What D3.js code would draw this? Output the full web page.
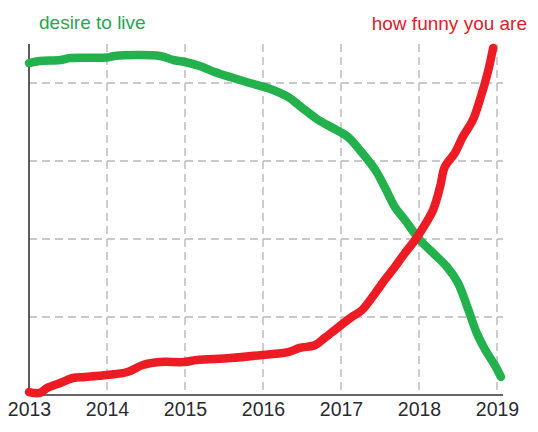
<!DOCTYPE html>
<html>
<head>
<meta charset="utf-8">
<script src="https://cdn.jsdelivr.net/npm/d3@7"></script>
<style>
  html, body { margin: 0; padding: 0; background: #fff; }
  svg { display: block; }
</style>
</head>
<body>
<div id="chart"></div>
<script>
// ---- data ----
const yearTicks = [2013, 2014, 2015, 2016, 2017, 2018, 2019];
const gridValues = [1, 2, 3, 4];
const seriesNames = ["desire to live", "how funny you are"];

const desireX = [2013.0, 2013.14, 2013.40, 2013.53, 2014.0, 2014.10, 2014.68, 2014.85, 2015.0, 2015.19, 2015.38, 2015.62, 2015.83, 2016.06, 2016.32, 2016.49, 2016.71, 2016.92, 2017.09, 2017.24, 2017.44, 2017.56, 2017.69, 2017.82, 2018.0, 2018.18, 2018.36, 2018.50, 2018.62, 2018.74, 2018.85, 2018.97, 2019.05];
const desireY = [4.256, 4.282, 4.295, 4.321, 4.327, 4.346, 4.346, 4.295, 4.269, 4.218, 4.141, 4.064, 4.0, 3.936, 3.821, 3.692, 3.526, 3.410, 3.308, 3.141, 2.885, 2.667, 2.410, 2.244, 2.0, 1.821, 1.641, 1.436, 1.128, 0.795, 0.577, 0.385, 0.231];

const funnyX = [2013.0, 2013.14, 2013.23, 2013.40, 2013.56, 2013.72, 2014.0, 2014.26, 2014.46, 2014.68, 2014.99, 2015.15, 2015.58, 2015.99, 2016.32, 2016.47, 2016.67, 2016.79, 2016.92, 2017.12, 2017.27, 2017.44, 2017.56, 2017.69, 2017.82, 2017.95, 2018.05, 2018.18, 2018.27, 2018.33, 2018.46, 2018.56, 2018.69, 2018.78, 2018.88, 2018.95];
const funnyY = [0.038, 0.026, 0.090, 0.154, 0.218, 0.231, 0.256, 0.295, 0.385, 0.423, 0.423, 0.449, 0.474, 0.513, 0.551, 0.603, 0.641, 0.731, 0.833, 0.987, 1.090, 1.308, 1.474, 1.641, 1.821, 1.987, 2.141, 2.372, 2.667, 2.923, 3.103, 3.308, 3.526, 3.782, 4.128, 4.449];

const colors = ["#22b14c", "#ed1c24"];
const labelColors = ["#2aa452", "#e0202c"];

// ---- chart ----
const W = 538, H = 432;
const svg = d3.select("#chart").append("svg").attr("width", W).attr("height", H);

const x = d3.scaleLinear().domain([2013, 2019]).range([29, 497]);
const y = d3.scaleLinear().domain([0, 4]).range([395, 83]);
const xEnd = 503, yTop = y(4.5);

// grid
const grid = svg.append("g").attr("stroke", "#b8b8b8").attr("stroke-width", 1.4).attr("stroke-dasharray", "8,5");
grid.selectAll("line.h").data(gridValues).join("line").attr("class", "h")
  .attr("x1", x(2013)).attr("x2", xEnd).attr("y1", d => y(d)).attr("y2", d => y(d));
grid.selectAll("line.v").data(yearTicks.slice(1)).join("line").attr("class", "v")
  .attr("x1", d => x(d)).attr("x2", d => x(d)).attr("y1", yTop).attr("y2", y(0));

// axes lines
svg.append("line").attr("x1", x(2013)).attr("x2", x(2013)).attr("y1", yTop).attr("y2", y(0))
  .attr("stroke", "#333").attr("stroke-width", 1.6);
svg.append("line").attr("x1", x(2013)).attr("x2", xEnd).attr("y1", y(0)).attr("y2", y(0))
  .attr("stroke", "#333").attr("stroke-width", 1.6);

// bottom axis labels
const xAxis = d3.axisBottom(x).tickValues(yearTicks).tickFormat(d3.format("d")).tickSize(0).tickPadding(7);
const ax = svg.append("g").attr("transform", `translate(0,${y(0)})`).call(xAxis);
ax.select(".domain").remove();
ax.selectAll("text").attr("font-family", "'Liberation Sans', Arial, sans-serif").attr("font-size", 19.5).attr("fill", "#2a2a32");

// lines
const line = d3.line().x(d => x(d[0])).y(d => y(d[1])).curve(d3.curveCatmullRom.alpha(0.5));
const desire = desireX.map((d, i) => [d, desireY[i]]);
const funny = funnyX.map((d, i) => [d, funnyY[i]]);

[desire, funny].forEach((s, i) => {
  svg.append("path").datum(s).attr("d", line).attr("fill", "none")
    .attr("stroke", colors[i]).attr("stroke-width", 8.5)
    .attr("stroke-linecap", "round").attr("stroke-linejoin", "round");
});

// labels
svg.append("text").attr("x", 39).attr("y", 29).text(seriesNames[0])
  .attr("font-family", "'Liberation Sans', Arial, sans-serif").attr("font-size", 19).attr("fill", labelColors[0]);
svg.append("text").attr("x", 527).attr("y", 30).attr("text-anchor", "end").text(seriesNames[1])
  .attr("font-family", "'Liberation Sans', Arial, sans-serif").attr("font-size", 19).attr("fill", labelColors[1]);
</script>
</body>
</html>
